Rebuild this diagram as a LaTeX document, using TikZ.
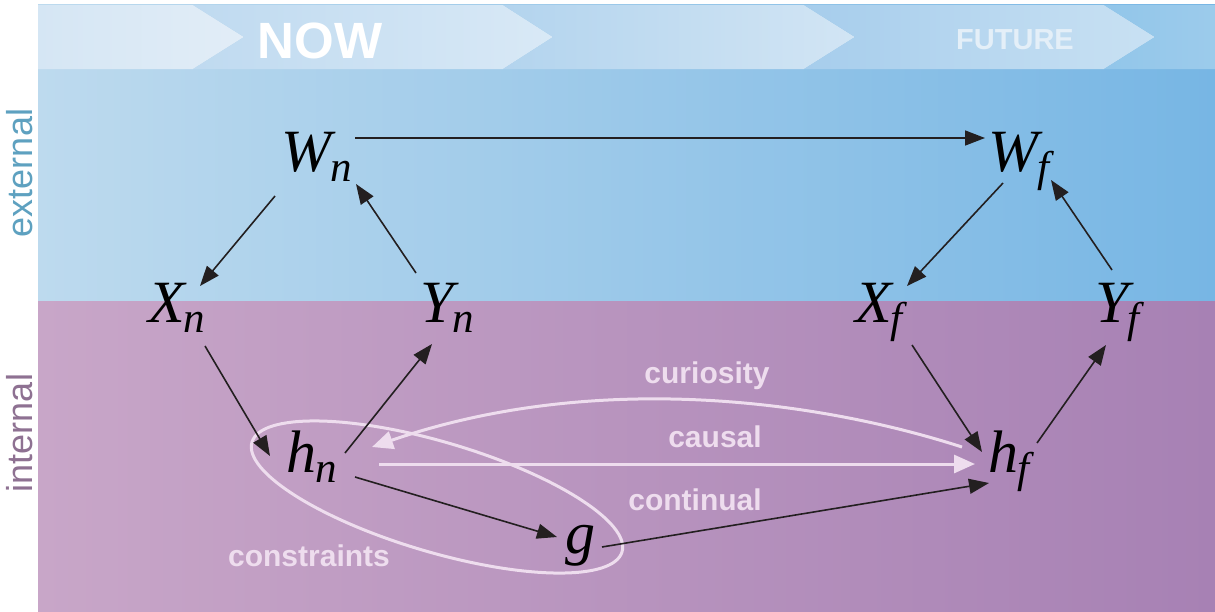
\documentclass[tikz,border=0pt]{standalone}
\usepackage{fontspec}
\setmainfont{Liberation Sans}
\newfontfamily\tms{Liberation Serif}
\usetikzlibrary{arrows.meta,calc,shapes.geometric}
\definecolor{extL}{HTML}{BDDAEE}
\definecolor{extR}{HTML}{77B6E4}
\definecolor{intL}{HTML}{C8A6C8}
\definecolor{intR}{HTML}{A781B4}
\definecolor{cAl}{HTML}{D5E6F4}\definecolor{cAr}{HTML}{E2EDF7}
\definecolor{cBl}{HTML}{BFDAF0}\definecolor{cBr}{HTML}{D9E9F6}
\definecolor{cCl}{HTML}{B3D4EE}\definecolor{cCr}{HTML}{D2E5F4}
\definecolor{cDl}{HTML}{A6CDEC}\definecolor{cDr}{HTML}{C9E1F3}
\definecolor{cEl}{HTML}{92C6EA}\definecolor{cEr}{HTML}{9CCBEB}
\definecolor{lite}{HTML}{EEDDEE}
\definecolor{ink}{HTML}{231F20}
\definecolor{extT}{HTML}{5EA1C0}
\definecolor{intT}{HTML}{8E7192}
\definecolor{futT}{HTML}{E4EFF8}
\newcommand{\mv}[2]{{\tms\itshape\fontsize{60}{60}\selectfont #1\kern-1pt\raisebox{-10pt}{\fontsize{43}{43}\selectfont #2}}}
\begin{document}
\begin{tikzpicture}[x=1pt,y=-1pt,
  lab/.style={inner sep=0pt, anchor=base west},
  arr/.style={draw=ink, line width=1.6pt, -{Triangle[length=20pt,width=15pt]}},
  larr/.style={draw=lite, line width=3pt, -{Triangle[length=21pt,width=18pt]}},
  word/.style={font=\bfseries\fontsize{30}{30}\selectfont, text=lite, inner sep=0pt, anchor=base},
  side/.style={font=\fontsize{36}{36}\selectfont, rotate=90, inner sep=0pt}]
\useasboundingbox (0,0) rectangle (1215,611);
\fill[white] (0,0) rectangle (1215,611);
% background regions
\shade[left color=extL, right color=extR] (38,4) rectangle (1215,301);
\shade[left color=intL, right color=intR] (38,301) rectangle (1215,611);
% chevrons
\shade[left color=cAl, right color=cAr] (38,5) -- (193,5) -- (244,37) -- (193,69) -- (38,69) -- cycle;
\shade[left color=cBl, right color=cBr] (193,5) -- (503,5) -- (553,37) -- (503,69) -- (193,69) -- (244,37) -- cycle;
\shade[left color=cCl, right color=cCr] (503,5) -- (804,5) -- (855,37) -- (804,69) -- (503,69) -- (553,37) -- cycle;
\shade[left color=cDl, right color=cDr] (804,5) -- (1104,5) -- (1155,37) -- (1104,69) -- (804,69) -- (855,37) -- cycle;
\shade[left color=cEl, right color=cEr] (1104,5) -- (1215,5) -- (1215,69) -- (1104,69) -- (1155,37) -- cycle;
% band labels
\node[font=\bfseries\fontsize{51}{51}\selectfont, text=white, inner sep=0pt, anchor=base] (now) at (320,58) {NOW};
\node[font=\bfseries\fontsize{29}{29}\selectfont, text=futT, inner sep=0pt, anchor=base] (fut) at (1015,49) {FUTURE};
% side labels
\node[side, text=extT] (ext) at (20,173) {external};
\node[side, text=intT] (int) at (20,433) {internal};
% constraints ellipse
\draw[lite, line width=3pt, rotate around={-16.5:(437,497)}] (437,497) ellipse [x radius=193pt, y radius=55pt];
% variable nodes
\node[lab] (Wn) at (281,171) {\mv{W}{n}};
\node[lab] (Wf) at (988,171) {\mv{W}{f}};
\node[lab] (Xn) at (148,322) {\mv{X}{n}};
\node[lab] (Yn) at (420,322) {\mv{Y}{n}};
\node[lab] (Xf) at (855,322) {\mv{X}{f}};
\node[lab] (Yf) at (1095,322) {\mv{Y}{f}};
\node[lab] (hn) at (286,472) {\mv{h}{n}};
\node[lab] (hf) at (988,472) {\mv{h}{f}};
\node[lab] (g) at (565,553) {\mv{g}{}};
% black arrows
\draw[arr] ($(Wn.base west)+(74,-33)$) -- ($(Wf.base west)+(-3,-33)$);
\draw[arr] ($(Wn.base west)+(-6,25)$) -- ($(Xn.base west)+(52,-36)$);
\draw[arr] ($(Yn.base west)+(-4,-49)$) -- ($(Wn.base west)+(75,13)$);
\draw[arr] ($(Xn.base west)+(57,24)$) -- ($(hn.base west)+(-16,-16)$);
\draw[arr] ($(hn.base west)+(59,-19)$) -- ($(Yn.base west)+(12,22)$);
\draw[arr] ($(hn.base west)+(69,5)$) -- ($(g.base west)+(-8,-16)$);
\draw[arr] ($(g.base west)+(37,-6)$) -- ($(hf.base west)+(1,11)$);
\draw[arr] ($(Xf.base west)+(57,23)$) -- ($(hf.base west)+(-6,-20)$);
\draw[arr] ($(hf.base west)+(49,-29)$) -- ($(Yf.base west)+(11,23)$);
\draw[arr] ($(Wf.base west)+(15,12)$) -- ($(Xf.base west)+(52,-36)$);
\draw[arr] ($(Yf.base west)+(17,-52)$) -- ($(Wf.base west)+(63,9)$);
% light arrows
\draw[larr] ($(hn.base west)+(93,-8)$) -- ($(hf.base west)+(-13,-8)$);
\draw[larr] ($(hf.base west)+(-26,-25)$) .. controls (810,398) and (590,372) .. ($(hn.base west)+(86,-25)$);
% light labels
\node[word] (cur) at (707,383) {curiosity};
\node[word] (cau) at (715,447) {causal};
\node[word] (con) at (695,510) {continual};
\node[word] (cns) at (309,566) {constraints};
\end{tikzpicture}
\end{document}
